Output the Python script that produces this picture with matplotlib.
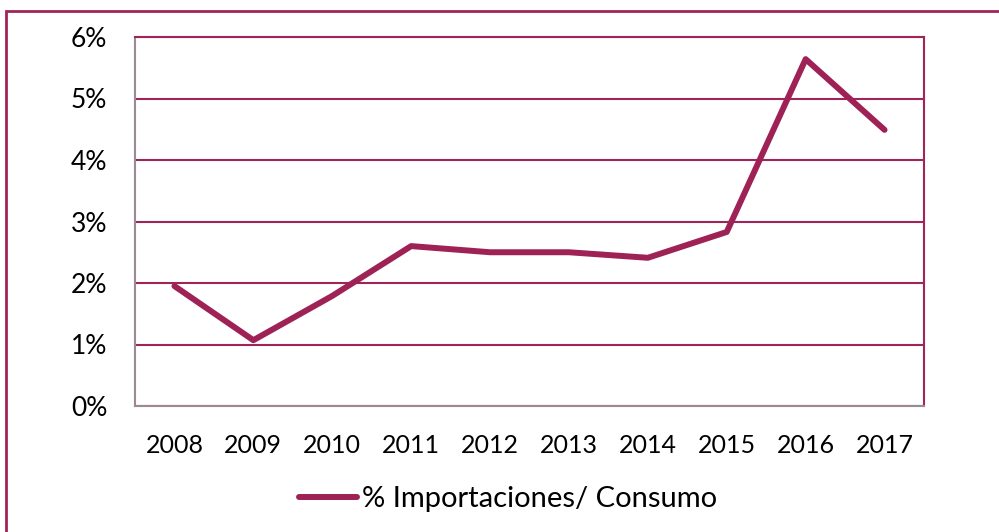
import matplotlib.pyplot as plt
from matplotlib.patches import Rectangle
from matplotlib.ticker import FuncFormatter

# Datos
anios = ['2008', '2009', '2010', '2011', '2012', '2013', '2014', '2015', '2016', '2017']
importaciones_consumo = [1.95, 1.07, 1.79, 2.60, 2.50, 2.50, 2.41, 2.83, 5.64, 4.49]

color_linea = '#9E2255'
color_borde = '#A0245A'

plt.rcParams['font.family'] = ['Lato', 'DejaVu Sans']

W, H = 999, 532
fig = plt.figure(figsize=(W / 100, H / 100), dpi=100)

# marco exterior del grafico
fig.patches.append(Rectangle((6 / W, -0.1), 1.2, 1 - 11 / H + 0.1, transform=fig.transFigure,
                             fill=False, edgecolor=color_borde, linewidth=2))

ax = fig.add_axes([135 / W, 1 - 406 / H, (924 - 135) / W, (406 - 37) / H])

x = range(len(anios))
ax.plot(x, importaciones_consumo, color=color_linea, linewidth=4.3,
        solid_capstyle='round', solid_joinstyle='round',
        label='% Importaciones/ Consumo')

ax.set_xlim(-0.5, len(anios) - 0.5)
ax.set_ylim(0, 6)
ax.set_yticks(range(0, 7))
ax.yaxis.set_major_formatter(FuncFormatter(lambda v, p: f'{int(v)}%'))
ax.set_xticks(list(x))
ax.set_xticklabels(anios)
ax.tick_params(length=0, labelsize=18, colors='black')
ax.tick_params(axis='y', labelsize=19, pad=20)
ax.tick_params(axis='x', pad=20)

ax.grid(axis='y', color=color_borde, linewidth=1.5)
ax.set_axisbelow(True)
for lado in ['top', 'right']:
    ax.spines[lado].set_color(color_borde)
    ax.spines[lado].set_linewidth(1.5)
for lado in ['left', 'bottom']:
    ax.spines[lado].set_color('#9B8A93')
    ax.spines[lado].set_linewidth(1.5)

leg = fig.legend(loc='center', bbox_to_anchor=(508 / W, 1 - 499 / H), frameon=False,
                 fontsize=21, handlelength=2.0, handletextpad=0.15)

fig.savefig('out.png', dpi=100)
